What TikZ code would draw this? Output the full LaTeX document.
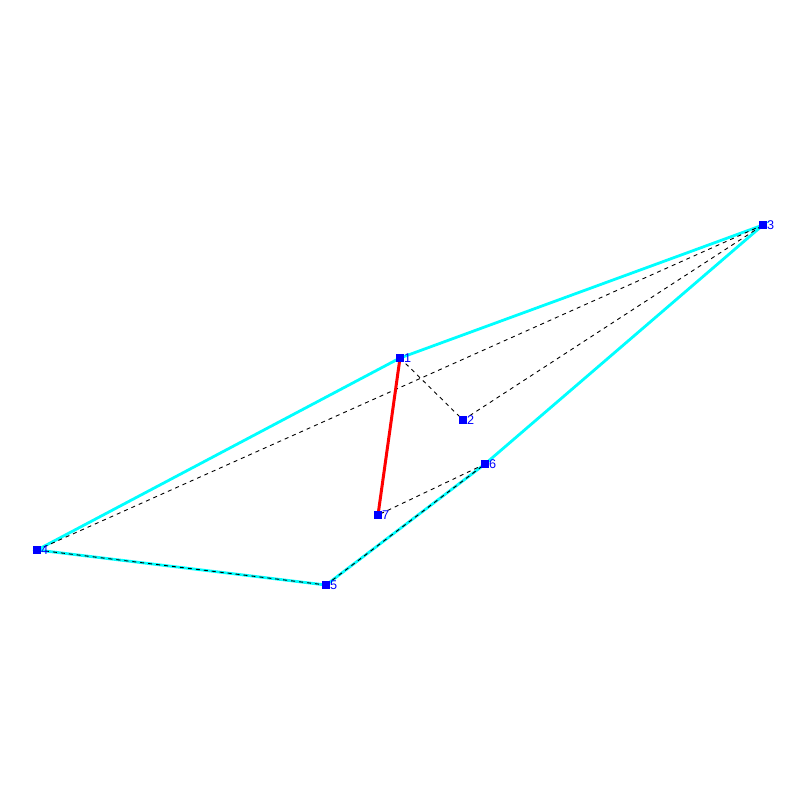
\documentclass[tikz,border=0pt]{standalone}
\usepackage{fontspec}
\setsansfont{Liberation Sans}
\usepackage{tikz}
\usetikzlibrary{calc}
\definecolor{hullcyan}{RGB}{0,255,255}
\definecolor{vertblue}{RGB}{0,0,255}
\definecolor{cutred}{RGB}{255,0,0}
\tikzset{
	hull/.style={hullcyan, line width=1.4mm},
	diag/.style={black, line width=0.45mm, dash pattern=on 2mm off 2mm},
	cut/.style={cutred, line width=1.5mm},
	vert/.style={fill=vertblue, minimum size=3.6mm, inner sep=0pt},
	num/.style={vertblue, font=\sffamily\fontsize{18}{20}\selectfont, inner sep=0pt, anchor=west}
}

\begin{document}
\begin{tikzpicture}[x=0.5mm, y=-0.5mm]
		%%%%% START %%%%%
		\useasboundingbox[fill=white] (0,0) rectangle (800,800);
		
		\coordinate (p1) at (400,358);
		\coordinate (p2) at (463,420);
		\coordinate (p3) at (763,225);
		\coordinate (p4) at (37,550);
		\coordinate (p5) at (326,585);
		\coordinate (p6) at (485,464);
		\coordinate (p7) at (378,515);
		
		\draw[hull] (p4) -- (p1) -- (p3) -- (p6) -- (p5) -- cycle;
		
		\draw[diag] (p1) -- (p2);
		\draw[diag] (p2) -- (p3);
		\draw[diag] (p3) -- (p4);
		\draw[diag] (p4) -- (p5);
		\draw[diag] (p5) -- (p6);
		\draw[diag] (p6) -- (p7);
		
		\draw[cut] (p1) -- (p7);
		
		\foreach \i in {1,...,7} {
			\node[vert] (v\i) at (p\i) {};
			\node[num] (n\i) at ($(p\i)+(4,0)$) {\i};
		}
		%%%%% END %%%%%
	\end{tikzpicture}
\end{document}
